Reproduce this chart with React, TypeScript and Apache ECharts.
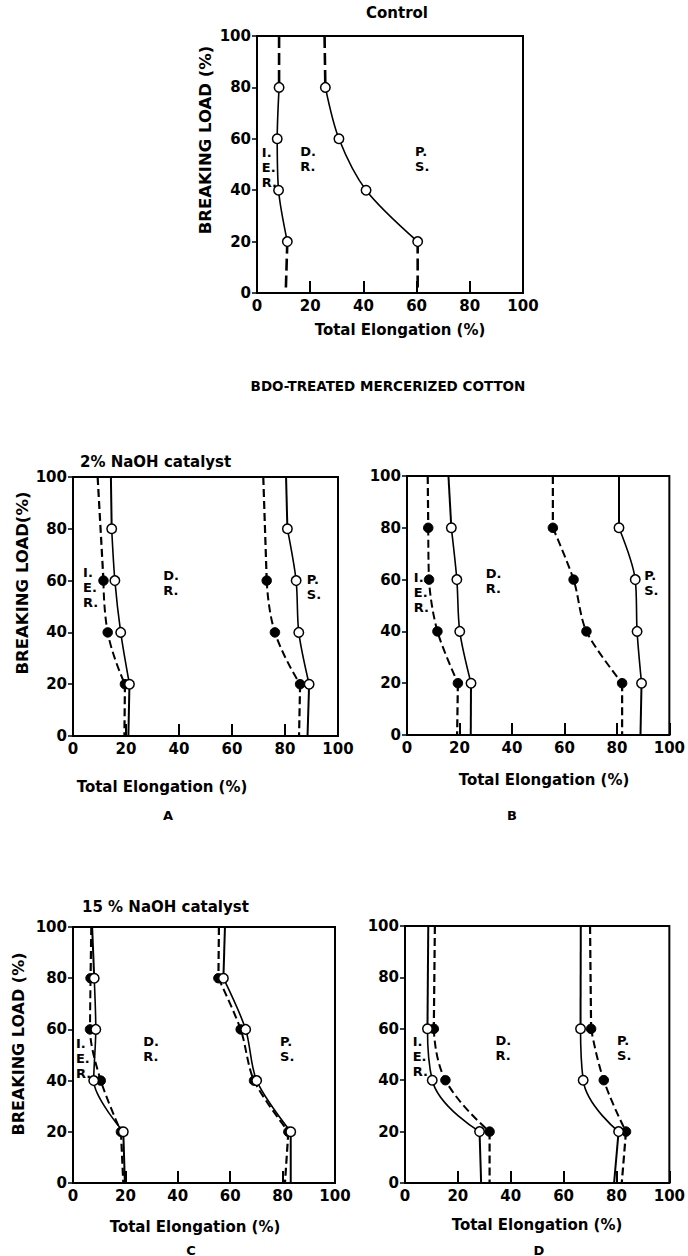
import React, { useEffect, useRef } from "react";
import * as echarts from "echarts";

// ---- axis ticks (both axes, every panel) ----
const AXIS_TICKS = [0, 20, 40, 60, 80, 100];

// ---- breaking load levels (%) ----
const LOADS_4 = [80, 60, 40, 20];
const LOADS_3 = [60, 40, 20];

// ---- Control ----
const CONTROL_IER = [8.3, 7.6, 8.1, 11.4];
const CONTROL_IER_ENDS = [8.3, 10.8]; // elongation at 100 % and 0 % load
const CONTROL_PS = [25.7, 30.8, 41.0, 60.4];
const CONTROL_PS_ENDS = [25.4, 60.4];

// ---- A : 2 % NaOH ----
const A_OPEN_IER = [14.6, 15.8, 18.0, 21.3];
const A_OPEN_IER_ENDS = [14.3, 20.9];
const A_FILLED_IER = [11.5, 13.1, 19.6];
const A_FILLED_IER_ENDS = [9.3, 19.4];
const A_OPEN_PS = [80.9, 84.2, 85.2, 89.1];
const A_OPEN_PS_ENDS = [80.4, 88.5];
const A_FILLED_PS = [73.1, 76.2, 85.7];
const A_FILLED_PS_ENDS = [71.8, 85.3];

// ---- B ----
const B_OPEN_IER = [16.9, 19.0, 20.1, 24.4];
const B_OPEN_IER_ENDS = [15.8, 24.3];
const B_FILLED_IER = [8.1, 8.4, 11.6, 19.4];
const B_FILLED_IER_ENDS = [7.9, 19.1];
const B_OPEN_PS = [80.8, 87.0, 87.7, 89.4];
const B_OPEN_PS_ENDS = [80.8, 89.0];
const B_FILLED_PS = [55.6, 63.5, 68.4, 82.0];
const B_FILLED_PS_ENDS = [55.6, 82.0];

// ---- C : 15 % NaOH ----
const C_OPEN_IER = [8.1, 8.7, 7.9, 19.2];
const C_OPEN_IER_ENDS = [7.3, 19.8];
const C_FILLED_IER = [6.7, 6.5, 10.6, 18.3];
const C_FILLED_IER_ENDS = [7.0, 19.2];
const C_OPEN_PS = [57.4, 65.9, 70.1, 83.1];
const C_OPEN_PS_ENDS = [58.0, 83.1];
const C_FILLED_PS = [55.5, 64.0, 69.1, 82.2];
const C_FILLED_PS_ENDS = [55.7, 80.9];

// ---- D ----
const D_OPEN_IER = [8.5, 10.3, 28.2];
const D_OPEN_IER_ENDS = [8.8, 28.8];
const D_FILLED_IER = [10.9, 15.3, 32.0];
const D_FILLED_IER_ENDS = [11.3, 32.0];
const D_OPEN_PS = [66.4, 67.4, 80.8];
const D_OPEN_PS_ENDS = [66.5, 79.1];
const D_FILLED_PS = [70.4, 75.2, 83.6];
const D_FILLED_PS_ENDS = [70.0, 82.0];

// ---- region texts ----
const REGION_TEXTS = ["I.\nE.\nR.", "D.\nR.", "P.\nS."];

// ---- layout ----
const GRIDS = [
  { left: 257, top: 36, width: 266, height: 257 },
  { left: 73, top: 477, width: 265, height: 259 },
  { left: 407, top: 476, width: 265, height: 259 },
  { left: 73, top: 927, width: 262, height: 256 },
  { left: 405, top: 926, width: 266, height: 257 },
];
// region text anchor (data coords) per panel: IER, DR, PS
const REGION_POS = [
  [[1.8, 49], [16.2, 52], [59.4, 52]],
  [[3.8, 57.5], [34, 59], [88.2, 57.5]],
  [[2.6, 55], [30, 59.5], [90.4, 58.7]],
  [[1.1, 48.8], [26.8, 52.3], [79, 52.3]],
  [[2.9, 49.4], [34.2, 52.5], [80.2, 52.5]],
];

type Curve = {
  grid: number;
  xs: number[];
  ys: number[];
  ends: number[];
  kind: "open" | "filled";
  dashedExt?: boolean;
};

const CURVES: Curve[] = [
  { grid: 0, xs: CONTROL_IER, ys: LOADS_4, ends: CONTROL_IER_ENDS, kind: "open", dashedExt: true },
  { grid: 0, xs: CONTROL_PS, ys: LOADS_4, ends: CONTROL_PS_ENDS, kind: "open", dashedExt: true },
  { grid: 1, xs: A_OPEN_IER, ys: LOADS_4, ends: A_OPEN_IER_ENDS, kind: "open" },
  { grid: 1, xs: A_FILLED_IER, ys: LOADS_3, ends: A_FILLED_IER_ENDS, kind: "filled" },
  { grid: 1, xs: A_OPEN_PS, ys: LOADS_4, ends: A_OPEN_PS_ENDS, kind: "open" },
  { grid: 1, xs: A_FILLED_PS, ys: LOADS_3, ends: A_FILLED_PS_ENDS, kind: "filled" },
  { grid: 2, xs: B_OPEN_IER, ys: LOADS_4, ends: B_OPEN_IER_ENDS, kind: "open" },
  { grid: 2, xs: B_FILLED_IER, ys: LOADS_4, ends: B_FILLED_IER_ENDS, kind: "filled" },
  { grid: 2, xs: B_OPEN_PS, ys: LOADS_4, ends: B_OPEN_PS_ENDS, kind: "open" },
  { grid: 2, xs: B_FILLED_PS, ys: LOADS_4, ends: B_FILLED_PS_ENDS, kind: "filled" },
  { grid: 3, xs: C_FILLED_IER, ys: LOADS_4, ends: C_FILLED_IER_ENDS, kind: "filled" },
  { grid: 3, xs: C_OPEN_IER, ys: LOADS_4, ends: C_OPEN_IER_ENDS, kind: "open" },
  { grid: 3, xs: C_FILLED_PS, ys: LOADS_4, ends: C_FILLED_PS_ENDS, kind: "filled" },
  { grid: 3, xs: C_OPEN_PS, ys: LOADS_4, ends: C_OPEN_PS_ENDS, kind: "open" },
  { grid: 4, xs: D_OPEN_IER, ys: LOADS_3, ends: D_OPEN_IER_ENDS, kind: "open" },
  { grid: 4, xs: D_FILLED_IER, ys: LOADS_3, ends: D_FILLED_IER_ENDS, kind: "filled" },
  { grid: 4, xs: D_OPEN_PS, ys: LOADS_3, ends: D_OPEN_PS_ENDS, kind: "open" },
  { grid: 4, xs: D_FILLED_PS, ys: LOADS_3, ends: D_FILLED_PS_ENDS, kind: "filled" },
];

const FONT = "DejaVu Sans";
const TMIN = AXIS_TICKS[0];
const TMAX = AXIS_TICKS[AXIS_TICKS.length - 1];
const TSTEP = AXIS_TICKS[1] - AXIS_TICKS[0];

function buildSeries(): any[] {
  const out: any[] = [];
  CURVES.forEach((c) => {
    const pts = c.xs.map((x, i) => [x, c.ys[i]]);
    const last = c.xs.length - 1;
    const solid = c.kind === "open";
    const itemStyle = solid
      ? { color: "#fff", borderColor: "#000", borderWidth: 1.5 }
      : { color: "#000", borderColor: "#000", borderWidth: 1 };
    const lineStyle = solid
      ? { color: "#000", width: 1.6, type: "solid" }
      : { color: "#000", width: 2, type: [8, 4] };
    out.push({
      type: "line",
      xAxisIndex: c.grid,
      yAxisIndex: c.grid,
      symbol: "circle",
      symbolSize: 9.5,
      smooth: c.xs.length === 3 ? 0.45 : 0.3,
      itemStyle,
      lineStyle,
      z: solid ? 4 : 3,
      silent: true,
      data: pts,
    });
    const extStyle = c.dashedExt
      ? { color: "#000", width: 2.6, type: [12, 5] }
      : { ...lineStyle, width: solid ? 2 : 2.2 };
    const ext = {
      type: "line",
      xAxisIndex: c.grid,
      yAxisIndex: c.grid,
      symbol: "none",
      lineStyle: extStyle,
      z: 2,
      silent: true,
    };
    out.push({ ...ext, data: [[c.ends[0], TMAX], pts[0]] });
    out.push({ ...ext, data: [pts[last], [c.ends[1], TMIN]] });
  });
  // region labels
  REGION_POS.forEach((pos, g) => {
    out.push({
      type: "scatter",
      xAxisIndex: g,
      yAxisIndex: g,
      symbolSize: 0.1,
      itemStyle: { color: "#000", opacity: 1 },
      silent: true,
      z: 5,
      data: pos.map((p, i) => ({ value: [p[0], p[1]], name: REGION_TEXTS[i] })),
      label: {
        show: true,
        position: "right",
        distance: 0,
        formatter: (p: any) => p.name,
        color: "#000",
        opacity: 1,
        textBorderWidth: 0,
        fontFamily: FONT,
        fontWeight: "bold",
        fontSize: 13,
        lineHeight: 15,
        align: "left",
        verticalAlign: "middle",
      },
    });
  });
  return out;
}

function txt(text: string, x: number, y: number, size: number, opts: any = {}) {
  return {
    type: "text",
    x,
    y,
    rotation: opts.rotation || 0,
    style: {
      text,
      fill: "#000",
      font: `bold ${size}px "${FONT}"`,
      align: opts.align || "center",
      verticalAlign: "middle",
    },
    silent: true,
  };
}

export default function App() {
  const ref = useRef<HTMLDivElement>(null);
  useEffect(() => {
    document.body.style.margin = "0";
    if (!ref.current) return;
    const chart = echarts.init(ref.current, undefined, { renderer: "svg" });
    const grid = GRIDS.map((g) => ({
      ...g,
      show: true,
      borderColor: "#000",
      borderWidth: 2,
      backgroundColor: "transparent",
      containLabel: false,
    }));
    const axisCommon = {
      type: "value",
      min: TMIN,
      max: TMAX,
      interval: TSTEP,
      splitLine: { show: false },
      axisLine: { show: true, lineStyle: { color: "#000", width: 2 } },
      axisLabel: {
        color: "#000",
        fontFamily: FONT,
        fontWeight: "bold",
        fontSize: 15,
      },
    };
    const xAxis = GRIDS.map((_, i) => ({
      ...axisCommon,
      gridIndex: i,
      axisTick: { show: true, inside: true, length: 12, lineStyle: { color: "#000", width: 2 } },
      axisLabel: { ...axisCommon.axisLabel, margin: 5 },
    }));
    const yAxis = GRIDS.map((_, i) => ({
      ...axisCommon,
      gridIndex: i,
      axisTick: { show: true, inside: false, length: 5, lineStyle: { color: "#000", width: 1.5 } },
      axisLabel: { ...axisCommon.axisLabel, margin: 6 },
    }));
    const graphic = [
      txt("Control", 397, 13, 15),
      txt("BDO-TREATED MERCERIZED COTTON", 388, 386, 13.5),
      txt("2% NaOH catalyst", 80, 462, 15, { align: "left" }),
      txt("15 % NaOH catalyst", 82, 907, 15, { align: "left" }),
      txt("Total Elongation (%)", 400, 330, 15),
      txt("Total Elongation (%)", 162, 787, 15),
      txt("Total Elongation (%)", 544, 780, 15),
      txt("Total Elongation (%)", 195, 1227, 15),
      txt("Total Elongation (%)", 537, 1225, 15),
      txt("BREAKING LOAD (%)", 205, 140, 16.5, { rotation: Math.PI / 2 }),
      txt("BREAKING LOAD(%)", 22, 583, 16.5, { rotation: Math.PI / 2 }),
      txt("BREAKING LOAD (%)", 18, 1044, 16, { rotation: Math.PI / 2 }),
      txt("A", 168, 815, 13),
      txt("B", 512, 815, 13),
      txt("C", 191, 1250, 13),
      txt("D", 539, 1250, 13),
    ];
    chart.setOption({
      animation: false,
      backgroundColor: "#fff",
      textStyle: { fontFamily: FONT },
      grid,
      xAxis,
      yAxis,
      series: buildSeries(),
      graphic,
    });
    return () => chart.dispose();
  }, []);
  return <div ref={ref} style={{ width: 688, height: 1256 }} />;
}
